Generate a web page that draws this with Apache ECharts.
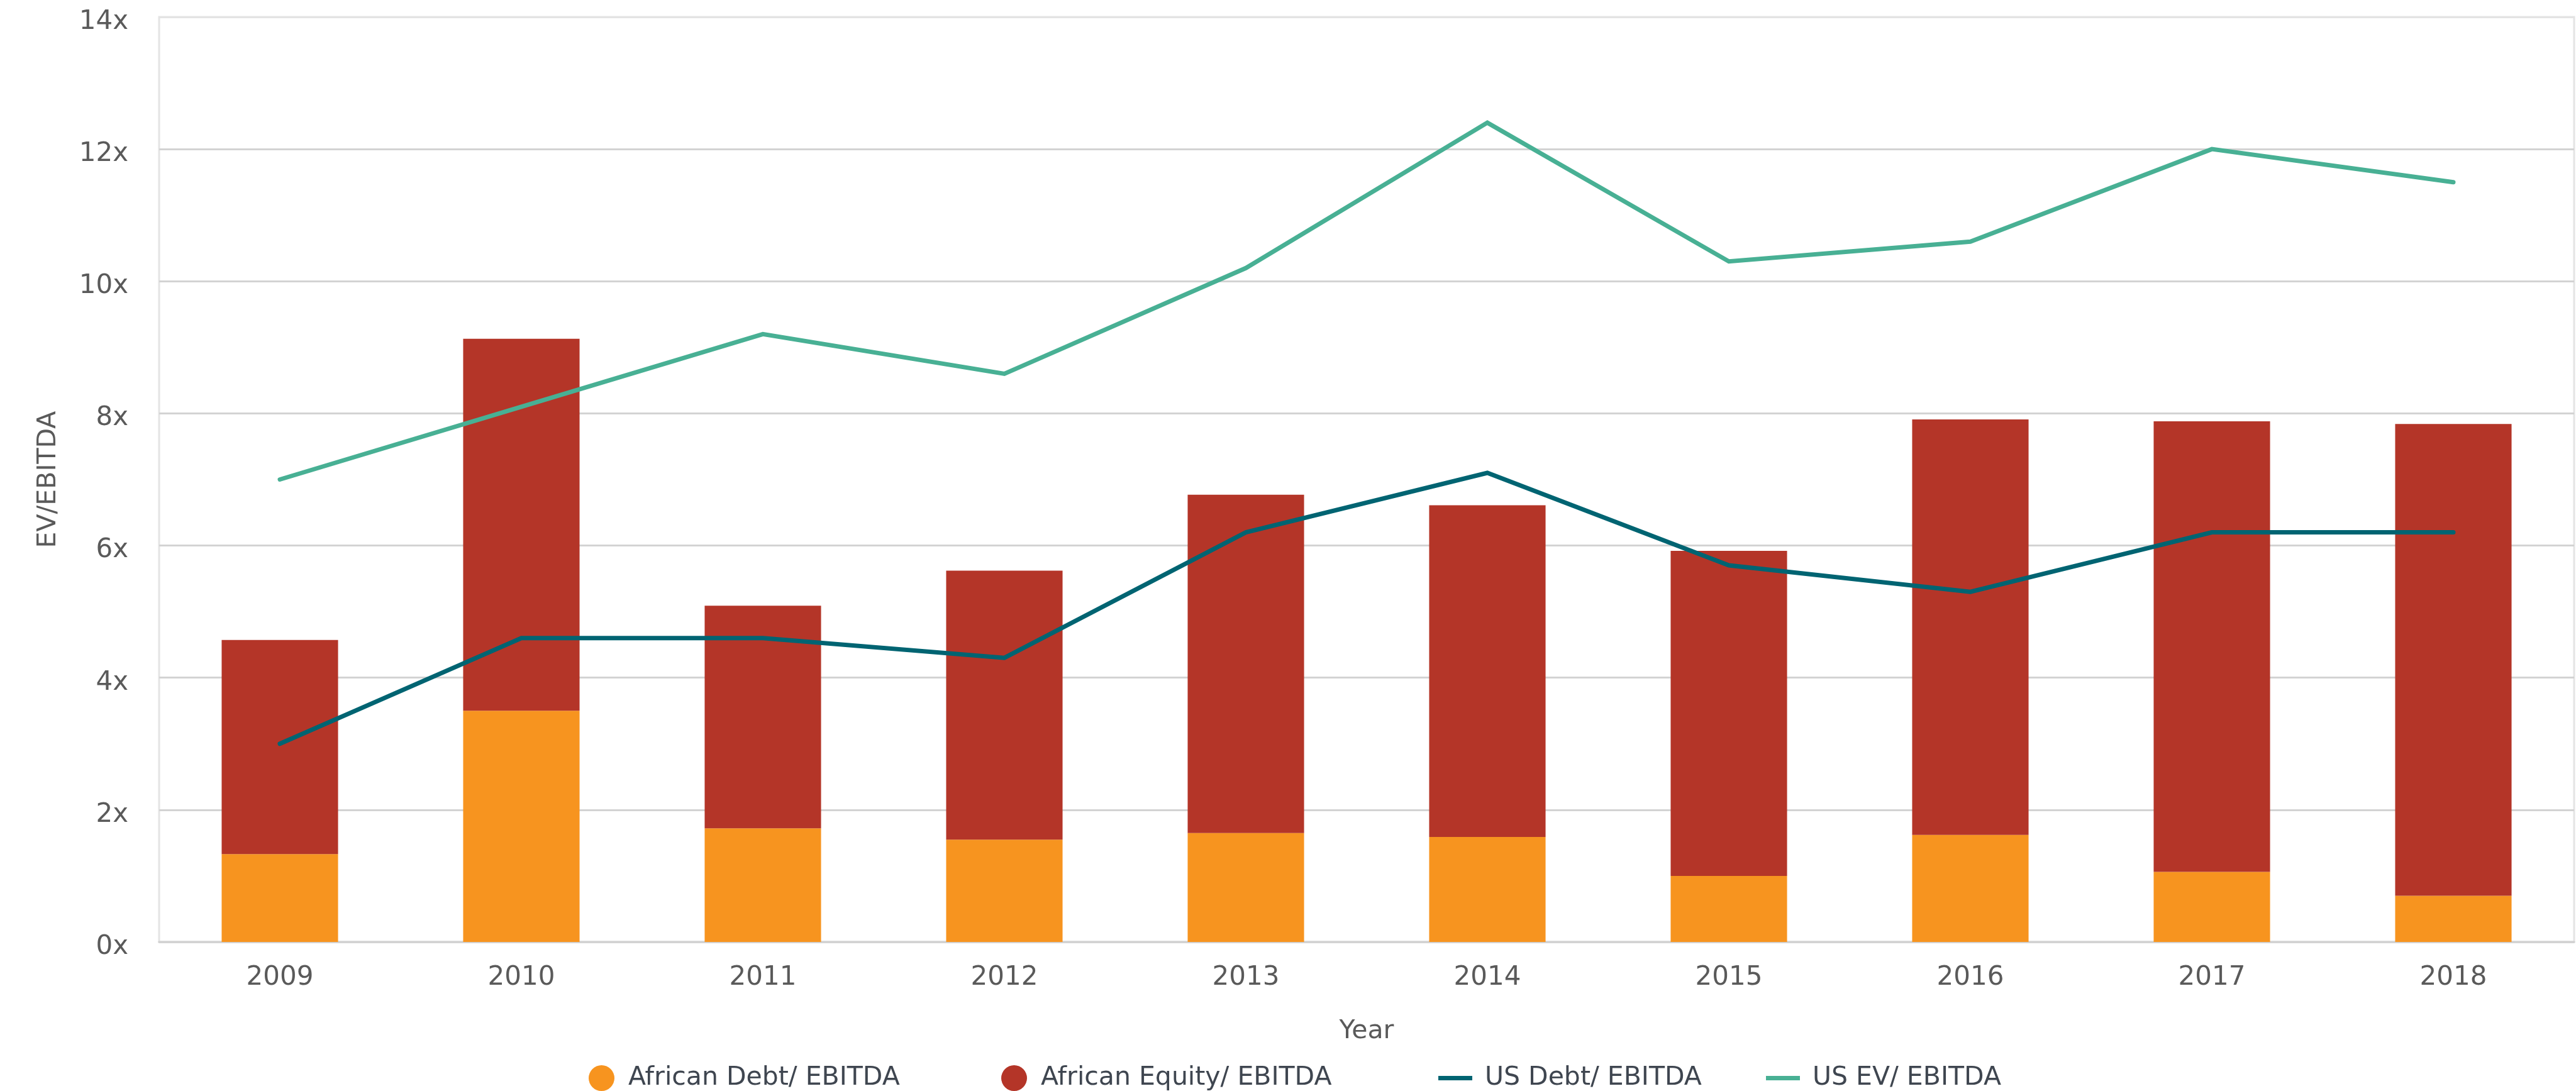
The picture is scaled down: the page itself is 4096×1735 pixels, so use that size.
<!DOCTYPE html>
<html>
<head>
<meta charset="utf-8">
<script src="https://cdn.jsdelivr.net/npm/echarts@6/dist/echarts.min.js"></script>
<style>html,body{margin:0;padding:0;background:#fff}#c{width:4096px;height:1735px}</style>
</head>
<body>
<div id="c"></div>
<script>
// ---- data ----
const years = ['2009','2010','2011','2012','2013','2014','2015','2016','2017','2018'];
const africanDebt = [1.33, 3.50, 1.72, 1.55, 1.65, 1.59, 1.00, 1.62, 1.06, 0.70];
const africanEquity = [3.24, 5.63, 3.37, 4.07, 5.12, 5.02, 4.92, 6.29, 6.82, 7.14];
const usDebt = [3.0, 4.6, 4.6, 4.3, 6.2, 7.1, 5.7, 5.3, 6.2, 6.2];
const usEV = [7.0, 8.1, 9.2, 8.6, 10.2, 12.4, 10.3, 10.6, 12.0, 11.5];
const seriesNames = ['African Debt/ EBITDA','African Equity/ EBITDA','US Debt/ EBITDA','US EV/ EBITDA'];
const yMin = 0, yMax = 14, yStep = 2;
const tickSuffix = 'x';
const xName = 'Year', yName = 'EV/EBITDA';

// ---- style ----
const FONT = 'DejaVu Sans';
const colors = ['#F7941F', '#B43528', '#006472', '#48B094'];
const tickColor = '#5a5a5a';
const legendColor = '#3f4650';
const gridColor = '#d3d3d3';
const borderColor = '#e4e4e4';

const splitColors = [];
for (let v = yMin; v <= yMax; v += yStep) splitColors.push(v === yMax ? borderColor : gridColor);

function legendFor(name, left, isLine) {
  return {
    data: [name],
    left: left,
    top: 1694,
    padding: 0,
    icon: isLine ? 'rect' : 'circle',
    itemWidth: isLine ? 54 : 41,
    itemHeight: isLine ? 7 : 41,
    selectedMode: false,
    textStyle: { fontFamily: FONT, fontSize: 41, color: legendColor, padding: [0, 0, 0, isLine ? 15 : 17] }
  };
}

const chart = echarts.init(document.getElementById('c'));
chart.setOption({
  animation: false,
  color: colors,
  grid: {
    left: 253, right: 3, top: 27, bottom: 237,
    show: true, borderColor: borderColor, borderWidth: 3, backgroundColor: 'transparent'
  },
  legend: [
    legendFor(seriesNames[0], 936, false),
    legendFor(seriesNames[1], 1592, false),
    legendFor(seriesNames[2], 2287, true),
    legendFor(seriesNames[3], 2808, true)
  ],
  xAxis: {
    type: 'category',
    data: years,
    name: xName,
    nameLocation: 'middle',
    nameGap: 122,
    nameTextStyle: { fontFamily: FONT, fontSize: 41, color: tickColor },
    axisLine: { show: true, lineStyle: { color: gridColor, width: 3.5 } },
    axisTick: { show: false },
    axisLabel: { fontFamily: FONT, fontSize: 42, color: tickColor, margin: 36 },
    splitLine: { show: false }
  },
  yAxis: {
    type: 'value',
    min: yMin, max: yMax, interval: yStep,
    name: yName,
    nameLocation: 'middle',
    nameGap: 155,
    nameTextStyle: { fontFamily: FONT, fontSize: 41, color: tickColor },
    axisLine: { show: false },
    axisTick: { show: false },
    axisLabel: {
      margin: 49,
      formatter: function (v) { return '{t|' + v + tickSuffix + '}'; },
      rich: { t: { fontFamily: FONT, fontSize: 42, color: tickColor, padding: [16, 0, 0, 0] } }
    },
    splitLine: { show: true, lineStyle: { color: splitColors, width: 3 } }
  },
  series: [
    { name: seriesNames[0], type: 'bar', stack: 'africa', data: africanDebt, barWidth: '48.2%', itemStyle: { color: colors[0] } },
    { name: seriesNames[1], type: 'bar', stack: 'africa', data: africanEquity, barWidth: '48.2%', itemStyle: { color: colors[1] } },
    { name: seriesNames[2], type: 'line', data: usDebt, symbol: 'none', lineStyle: { color: colors[2], width: 7, cap: 'round', join: 'miter' }, itemStyle: { color: colors[2] } },
    { name: seriesNames[3], type: 'line', data: usEV, symbol: 'none', lineStyle: { color: colors[3], width: 7, cap: 'round', join: 'miter' }, itemStyle: { color: colors[3] } }
  ]
});
</script>
</body>
</html>
